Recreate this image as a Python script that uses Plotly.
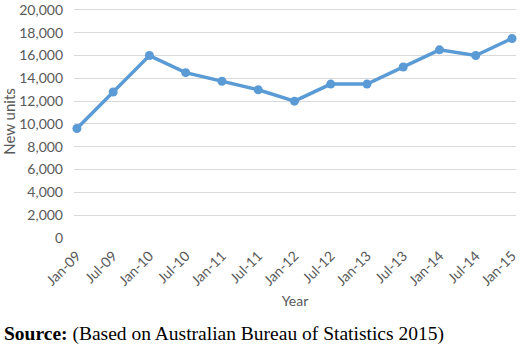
import plotly.graph_objects as go

categories = ["Jan-09", "Jul-09", "Jan-10", "Jul-10", "Jan-11", "Jul-11", "Jan-12",
              "Jul-12", "Jan-13", "Jul-13", "Jan-14", "Jul-14", "Jan-15"]
new_units = [9600, 12800, 16000, 14500, 13750, 13000, 12000,
             13500, 13500, 15000, 16500, 16000, 17500]

font_family = "Lato, Open Sans, Liberation Sans, sans-serif"
tick_font = dict(family=font_family, size=14, color="#595959")

fig = go.Figure(go.Scatter(
    x=categories, y=new_units, mode="lines+markers",
    line=dict(color="#5B9BD5", width=3.5),
    marker=dict(color="#5B9BD5", size=9),
    cliponaxis=False,
))

plot_h = 236
fig.update_layout(
    width=520, height=352,
    margin=dict(l=74, r=1, t=2, b=114),
    paper_bgcolor="white", plot_bgcolor="white",
    showlegend=False,
    xaxis=dict(type="category", range=[-0.08, 12.11], tickangle=-45,
               tickfont=tick_font, showgrid=False, showline=False, ticks="",
               ticklabelstandoff=6,
               title=dict(text="Year", font=tick_font, standoff=8)),
    yaxis=dict(range=[0, 20433], tickmode="linear", tick0=0, dtick=2000,
               tickformat=",d", ticklabeloverflow="allow",
               tickfont=tick_font, gridcolor="#D9D9D9", gridwidth=1,
               zeroline=False, showline=False, ticks="", ticklabelstandoff=10,
               title=dict(text="New units", font=dict(family=font_family, size=15, color="#595959"), standoff=6)),
    annotations=[dict(
        text="<b>Source:</b> (Based on Australian Bureau of Statistics 2015)",
        xref="paper", yref="paper", x=-72/445, y=-84/plot_h,
        xanchor="left", yanchor="top", showarrow=False,
        font=dict(family="Liberation Serif, Times New Roman, serif", size=19.5, color="black"),
    )],
)

fig.write_html("out.html")
